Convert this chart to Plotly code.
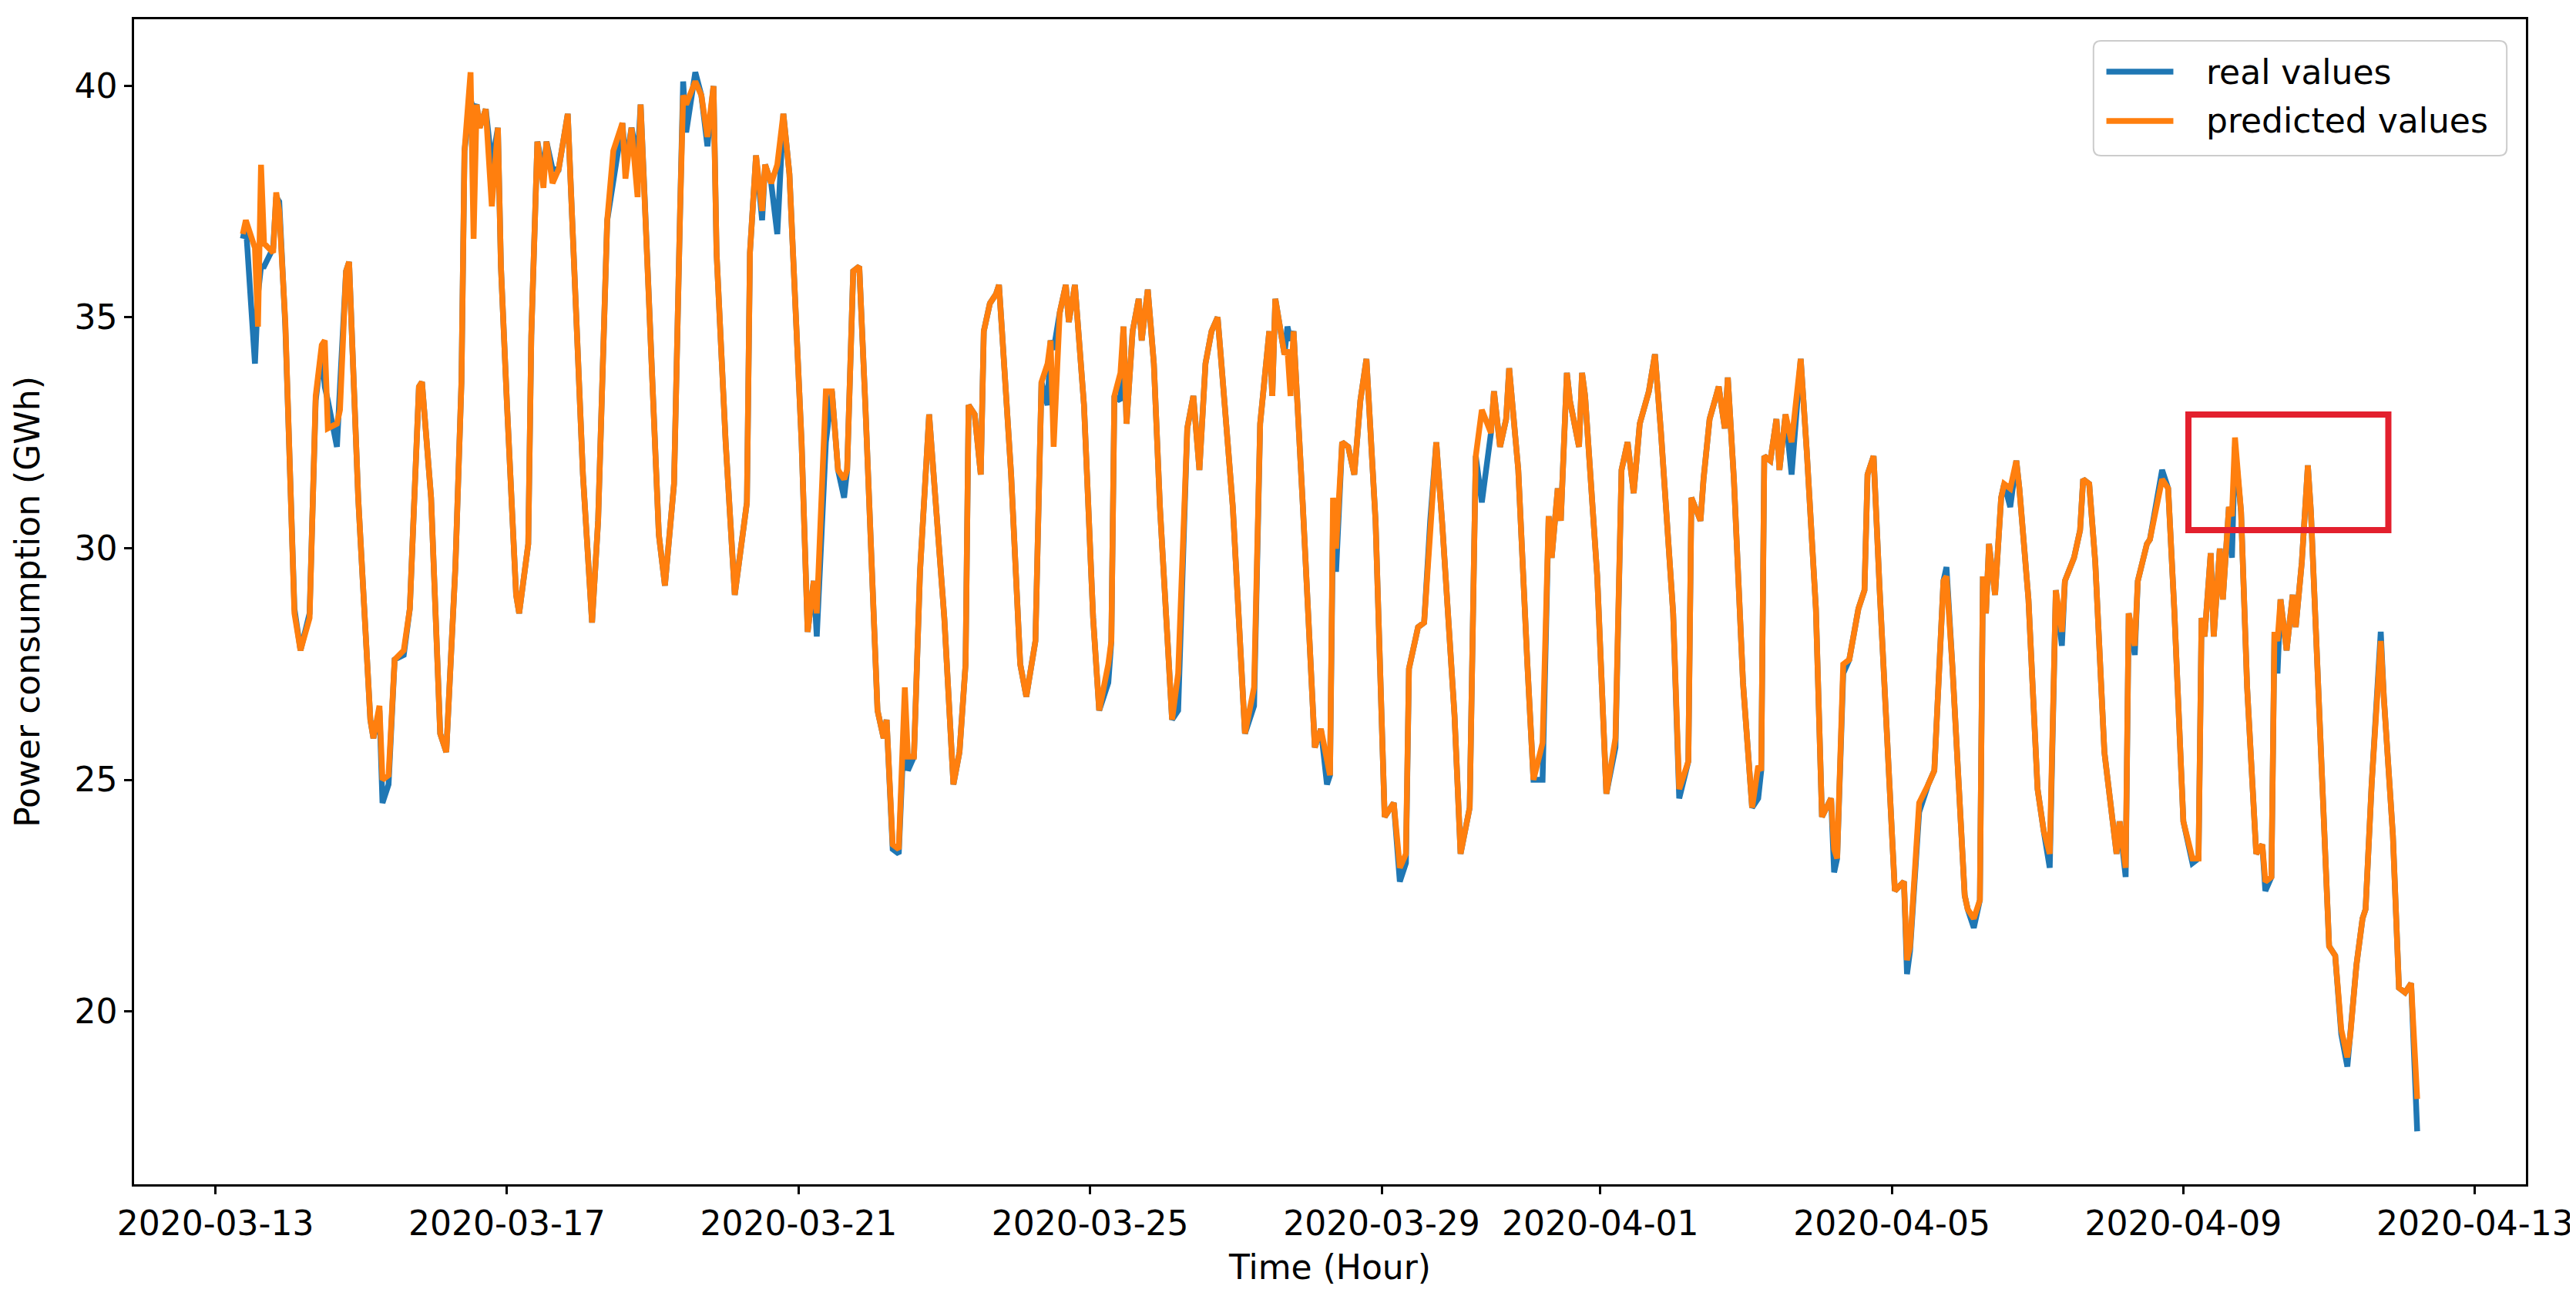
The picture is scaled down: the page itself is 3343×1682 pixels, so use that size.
import pandas as pd
import plotly.graph_objects as go

BASE_DATE = pd.Timestamp("2020-03-13")

# hours since 2020-03-13 00:00 (one row per day)
hours = [
    9, 10, 13, 14, 15, 16, 19, 20, 21, 23,
    26, 28, 31, 32, 33, 35, 36, 37, 40, 41, 43, 44, 47,
    51, 52, 54, 55, 57, 59, 62, 64, 67, 68, 71,
    74, 76, 79, 81, 82, 84, 85, 86, 87, 89, 91, 93, 94,
    96, 99, 100, 103, 104, 106, 108, 109, 111, 113, 116, 118,
    121, 124, 126, 129, 131, 134, 135, 137, 139, 140, 141, 144,
    146, 148, 151, 153, 154, 155, 158, 160, 162, 164, 165, 168,
    171, 175, 176, 178, 180, 181, 183, 185, 187, 189,
    193, 195, 197, 198, 201, 203, 205, 207, 208, 210, 212, 214,
    218, 220, 221, 223, 225, 227, 228, 230, 232, 235, 237,
    240, 243, 245, 247, 248, 250, 252, 253, 255, 257, 258, 259, 262,
    265, 267, 270, 272, 274, 275, 276, 278, 280, 281, 283, 286,
    289, 291, 294, 295, 296, 298, 299, 300, 302, 304, 305, 307, 309, 311,
    315, 317, 320, 322, 324, 326, 328, 330, 331, 335,
    339, 342, 344, 347, 348, 349, 352, 353, 354, 355, 358,
    362, 364, 366, 367, 368, 369, 371, 373, 375, 377, 379, 382,
    385, 388, 390, 392, 393, 396, 398, 400, 402, 404, 408,
    410, 413, 415, 417, 420, 421, 423, 425, 426, 429, 432,
    434, 437, 439, 440, 442, 443, 445, 446, 449, 450, 451, 455,
    458, 461, 463, 465, 467, 469, 472, 474, 476, 480,
    482, 485, 486, 489, 490, 492, 495, 497, 498, 500, 503,
    506, 508, 509, 510, 512, 514, 515, 517, 519, 522, 524, 527,
    529, 532, 533, 534, 536, 538, 541, 543, 544, 546, 548, 552,
    553, 556, 557, 558, 561, 564, 566, 569, 570, 572, 576,
    577, 579, 581, 582, 583, 584, 586, 588, 589, 591, 593, 594, 597,
    600, 602, 604, 606, 608, 609, 612, 614, 615, 617, 619, 622,
    626, 627, 629, 630, 632, 633, 636, 637, 639, 641, 643, 645, 648,
    650, 651, 653, 654, 655, 657, 658, 660, 661, 663, 664, 665, 667, 669, 672,
    674, 675, 677, 678, 679, 680, 682, 684, 685, 687, 689, 690, 693, 696,
    698, 700, 702, 703, 705, 707, 708, 710, 713, 714, 717, 719, 721, 723, 725,
]

real_values = [
    36.7, 37.0, 34.0, 35.5, 36.1, 36.1, 36.5, 37.6, 37.5, 34.8,
    28.7, 27.8, 28.6, 30.8, 33.2, 34.3, 33.5, 33.2, 32.2, 33.5, 36.0, 36.2, 31.1,
    26.3, 25.9, 26.5, 24.5, 24.9, 27.6, 27.7, 28.7, 33.5, 33.6, 31.1,
    26.0, 25.6, 29.6, 33.6, 38.6, 39.7, 39.5, 39.6, 39.1, 39.5, 38.3, 39.1, 36.1,
    33.1, 29.0, 28.6, 30.1, 34.6, 38.8, 38.1, 38.8, 38.2, 38.2, 39.4, 36.1,
    31.6, 28.4, 30.6, 37.1, 37.9, 39.2, 38.3, 39.1, 38.4, 39.6, 38.1, 33.6,
    30.3, 29.2, 31.4, 37.3, 40.1, 39.0, 40.3, 39.8, 38.7, 40.0, 36.4, 32.3,
    29.0, 31.0, 36.4, 38.5, 37.1, 38.3, 37.9, 36.8, 39.4, 38.1,
    32.3, 28.2, 29.3, 28.1, 32.3, 33.4, 31.7, 31.1, 31.7, 36.0, 36.1, 33.1,
    26.5, 25.9, 26.3, 23.5, 23.4, 26.5, 25.2, 25.5, 29.5, 32.9, 31.1,
    28.5, 24.9, 25.6, 27.5, 33.1, 32.9, 31.6, 34.7, 35.3, 35.5, 35.7, 34.7, 31.6,
    27.5, 26.8, 28.0, 33.6, 33.1, 34.5, 34.3, 35.1, 35.7, 34.9, 35.7, 33.1,
    28.5, 26.5, 27.1, 28.0, 33.3, 33.2, 34.8, 32.7, 34.7, 35.4, 34.5, 35.6, 34.0, 30.9,
    26.3, 26.5, 32.6, 33.3, 31.7, 34.0, 34.7, 35.0, 34.2, 30.9,
    26.0, 26.6, 32.7, 34.7, 33.3, 35.4, 34.2, 34.8, 34.5, 34.7, 31.0,
    25.7, 26.1, 24.9, 25.1, 30.6, 29.5, 32.3, 32.2, 31.6, 33.2, 34.1, 30.6,
    24.2, 24.5, 22.8, 23.2, 27.4, 28.3, 28.4, 30.6, 32.3, 30.5, 26.4,
    23.4, 24.4, 32.0, 31.0, 32.5, 33.4, 32.2, 32.8, 33.9, 31.7, 27.5,
    25.0, 25.0, 30.7, 29.8, 31.3, 30.6, 33.8, 33.2, 32.2, 33.8, 33.3, 29.4,
    24.7, 25.7, 31.7, 32.3, 31.2, 32.7, 33.4, 34.2, 32.5, 28.6,
    24.6, 25.4, 31.1, 30.6, 31.5, 32.8, 33.5, 32.6, 33.7, 31.5, 27.1,
    24.4, 24.6, 25.2, 32.0, 31.9, 32.8, 31.7, 32.9, 31.6, 34.1, 32.1, 28.7,
    24.2, 24.6, 23.0, 23.3, 27.3, 27.6, 28.7, 29.1, 31.6, 32.0, 29.1, 23.9,
    22.6, 22.8, 20.8, 21.3, 24.3, 24.9, 25.2, 29.3, 29.6, 27.4, 22.5,
    22.2, 21.8, 22.4, 29.4, 28.6, 30.1, 29.0, 31.1, 31.4, 30.9, 31.9, 31.3, 28.9,
    24.8, 23.9, 23.1, 29.1, 27.9, 29.3, 29.8, 30.4, 31.5, 31.4, 29.7, 25.6,
    23.4, 24.1, 22.9, 28.6, 27.7, 29.3, 30.1, 30.2, 30.9, 31.7, 31.3, 28.7, 24.1,
    23.5, 23.2, 23.3, 28.5, 28.1, 29.9, 28.1, 30.0, 28.9, 30.9, 29.8, 32.2, 30.8, 27.0, 23.4,
    23.6, 22.6, 22.9, 28.2, 27.3, 28.9, 27.8, 29.0, 28.3, 29.7, 31.8, 30.8, 25.9, 21.4,
    21.2, 19.5, 18.8, 19.5, 21.0, 22.0, 22.2, 24.9, 28.2, 26.8, 23.8, 20.5, 20.4, 20.6, 17.4,
]

predicted_values = [
    36.8, 37.1, 36.5, 34.8, 38.3, 36.6, 36.4, 37.7, 37.3, 34.9,
    28.6, 27.8, 28.5, 30.8, 33.3, 34.4, 34.5, 32.6, 32.7, 33.0, 36.0, 36.2, 31.1,
    26.3, 25.9, 26.6, 25.0, 25.1, 27.6, 27.8, 28.7, 33.5, 33.6, 31.1,
    26.0, 25.6, 29.6, 33.6, 38.6, 40.3, 36.7, 39.6, 39.1, 39.5, 37.4, 39.1, 36.1,
    33.1, 29.0, 28.6, 30.1, 34.6, 38.8, 37.8, 38.8, 37.9, 38.2, 39.4, 36.1,
    31.6, 28.4, 30.6, 37.1, 38.6, 39.2, 38.0, 39.1, 37.6, 39.6, 38.1, 33.6,
    30.3, 29.2, 31.4, 37.3, 39.8, 39.6, 40.1, 39.8, 38.9, 40.0, 36.4, 32.3,
    29.0, 31.0, 36.4, 38.5, 37.3, 38.3, 37.9, 38.3, 39.4, 38.1,
    32.3, 28.2, 29.3, 28.6, 33.4, 33.4, 31.7, 31.5, 31.7, 36.0, 36.1, 33.1,
    26.5, 25.9, 26.3, 23.6, 23.5, 27.0, 25.5, 25.5, 29.5, 32.9, 31.1,
    28.5, 24.9, 25.6, 27.5, 33.1, 32.9, 31.6, 34.7, 35.3, 35.5, 35.7, 34.7, 31.6,
    27.5, 26.8, 28.0, 33.6, 34.0, 34.5, 32.2, 35.1, 35.7, 34.9, 35.7, 33.1,
    28.5, 26.5, 27.5, 28.0, 33.3, 33.8, 34.8, 32.7, 34.7, 35.4, 34.5, 35.6, 34.0, 30.9,
    26.3, 27.3, 32.6, 33.3, 31.7, 34.0, 34.7, 35.0, 34.2, 30.9,
    26.0, 27.0, 32.7, 34.7, 33.3, 35.4, 34.2, 34.3, 33.3, 34.7, 31.0,
    25.7, 26.1, 25.5, 25.1, 31.1, 30.0, 32.3, 32.2, 31.6, 33.2, 34.1, 30.6,
    24.2, 24.5, 23.1, 23.4, 27.4, 28.3, 28.4, 30.6, 32.3, 30.5, 26.4,
    23.4, 24.4, 32.0, 33.0, 32.5, 33.4, 32.2, 32.8, 33.9, 31.7, 27.5,
    25.0, 25.8, 30.7, 29.8, 31.3, 30.6, 33.8, 33.2, 32.2, 33.8, 33.3, 29.4,
    24.7, 25.9, 31.7, 32.3, 31.2, 32.7, 33.4, 34.2, 32.5, 28.6,
    24.8, 25.4, 31.1, 30.6, 31.5, 32.8, 33.5, 32.6, 33.7, 31.5, 27.1,
    24.4, 25.3, 25.2, 32.0, 31.9, 32.8, 31.7, 32.9, 32.3, 34.1, 32.1, 28.7,
    24.2, 24.6, 23.5, 23.3, 27.5, 27.6, 28.7, 29.1, 31.6, 32.0, 29.1, 23.9,
    22.6, 22.8, 21.1, 21.4, 24.5, 24.9, 25.2, 29.3, 29.4, 27.4, 22.5,
    22.2, 22.0, 22.4, 29.4, 28.6, 30.1, 29.0, 31.1, 31.4, 31.3, 31.9, 31.3, 28.9,
    24.8, 23.9, 23.4, 29.1, 28.2, 29.3, 29.8, 30.4, 31.5, 31.4, 29.7, 25.6,
    23.4, 24.1, 23.1, 28.6, 27.9, 29.3, 30.1, 30.2, 30.9, 31.5, 31.3, 28.7, 24.1,
    23.5, 23.3, 23.3, 28.5, 28.1, 29.9, 28.1, 30.0, 28.9, 30.9, 30.7, 32.4, 30.8, 27.0, 23.4,
    23.6, 22.8, 22.9, 28.2, 28.0, 28.9, 27.8, 29.0, 28.3, 29.7, 31.8, 30.8, 25.9, 21.4,
    21.2, 19.6, 19.0, 19.5, 21.0, 22.0, 22.2, 24.9, 28.0, 26.8, 23.8, 20.5, 20.4, 20.6, 18.1,
]

tick_dates = [
    "2020-03-13", "2020-03-17", "2020-03-21", "2020-03-25", "2020-03-29",
    "2020-04-01", "2020-04-05", "2020-04-09", "2020-04-13",
]
y_ticks = [20, 25, 30, 35, 40]

series_names = ["real values", "predicted values"]
series_colors = ["#1f77b4", "#ff7f0e"]

# red box highlighting the last peaks
box_x = ["2020-04-09 01:40", "2020-04-11 19:30"]
box_y = [30.4, 32.9]

FONT = "DejaVu Sans, Arial, sans-serif"
LINE_W = 7.5

x_times = BASE_DATE + pd.to_timedelta(hours, unit="h")

# matplotlib-like 5% margins around the data
span_h = max(hours) - min(hours)
x_lo = BASE_DATE + pd.to_timedelta(min(hours) - 0.05 * span_h, unit="h")
x_hi = BASE_DATE + pd.to_timedelta(max(hours) + 0.05 * span_h, unit="h")
all_y = real_values + predicted_values
y_span = max(all_y) - min(all_y)
y_lo = min(all_y) - 0.05 * y_span
y_hi = max(all_y) + 0.05 * y_span

fig = go.Figure()
for name, vals, color in zip(series_names, [real_values, predicted_values], series_colors):
    fig.add_trace(go.Scatter(
        x=x_times, y=vals, mode="lines", name=name, showlegend=False,
        line=dict(color=color, width=LINE_W),
    ))

fig.add_shape(
    type="rect", xref="x", yref="y",
    x0=box_x[0], x1=box_x[1], y0=box_y[0], y1=box_y[1],
    line=dict(color="#e3202e", width=8),
)

# --- matplotlib-style legend drawn by hand (long handles, rounded box) ---
lx0, lx1, ly0, ly1 = 0.8192, 0.9920, 0.8829, 0.9815
rx, ry = 0.0032, 0.0066
legend_path = (
    f"M{lx0 + rx},{ly1} L{lx1 - rx},{ly1} Q{lx1},{ly1} {lx1},{ly1 - ry} "
    f"L{lx1},{ly0 + ry} Q{lx1},{ly0} {lx1 - rx},{ly0} "
    f"L{lx0 + rx},{ly0} Q{lx0},{ly0} {lx0},{ly0 + ry} "
    f"L{lx0},{ly1 - ry} Q{lx0},{ly1} {lx0 + rx},{ly1} Z"
)
fig.add_shape(
    type="path", xref="paper", yref="paper", path=legend_path,
    fillcolor="rgba(255,255,255,0.8)", line=dict(color="#cccccc", width=2),
    layer="above",
)
row_y = [0.955, 0.9127]
for name, color, yy in zip(series_names, series_colors, row_y):
    fig.add_shape(
        type="line", xref="paper", yref="paper",
        x0=0.8246, x1=0.8526, y0=yy, y1=yy,
        line=dict(color=color, width=LINE_W), layer="above",
    )
    fig.add_annotation(
        xref="paper", yref="paper", x=0.8657, y=yy,
        xanchor="left", yanchor="middle", showarrow=False,
        text=name, font=dict(family=FONT, size=44, color="black"),
    )

axis_style = dict(
    showline=True, linecolor="black", linewidth=2.5, mirror=True,
    ticks="outside", ticklen=10, tickwidth=2.5, tickcolor="black",
    showgrid=False, zeroline=False,
    tickfont=dict(family=FONT, size=44, color="black"),
)

fig.update_xaxes(
    type="date", range=[x_lo, x_hi],
    tickvals=pd.to_datetime(tick_dates), ticktext=tick_dates,
    title=dict(text="Time (Hour)", font=dict(family=FONT, size=44, color="black"), standoff=18),
    **axis_style,
)
fig.update_yaxes(
    range=[y_lo, y_hi], tickvals=y_ticks,
    title=dict(text="Power consumption (GWh)", font=dict(family=FONT, size=44, color="black"), standoff=32),
    **axis_style,
)

fig.update_layout(
    width=3343, height=1682,
    margin=dict(l=166, r=64, t=17, b=153),
    paper_bgcolor="white", plot_bgcolor="white",
    font=dict(family=FONT, size=44, color="black"),
    showlegend=False,
)

fig.write_html("out.html")
